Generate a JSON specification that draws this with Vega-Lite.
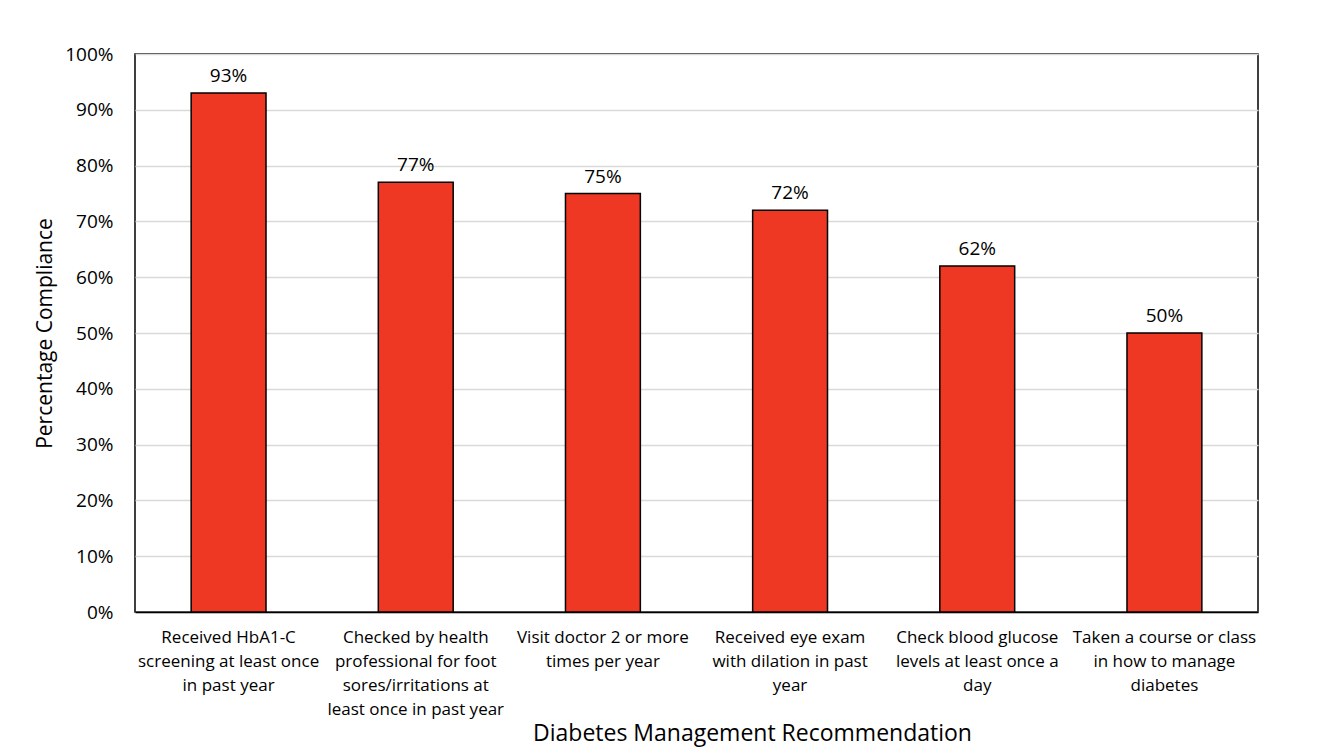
{
  "$schema": "https://vega.github.io/schema/vega-lite/v6.json",
  "width": 1123,
  "height": 558,
  "autosize": {"type": "none"},
  "padding": {"left": 135, "top": 54, "right": 84, "bottom": 141},
  "background": "white",
  "config": {
    "font": "Open Sans",
    "view": {"stroke": "black", "strokeWidth": 1.5},
    "axis": {"labelColor": "black", "titleColor": "black", "titleFontWeight": "normal"}
  },
  "data": {
    "values": [
      {"rec": "hba1c", "pct": 0.93},
      {"rec": "foot", "pct": 0.77},
      {"rec": "doctor", "pct": 0.75},
      {"rec": "eye", "pct": 0.72},
      {"rec": "glucose", "pct": 0.62},
      {"rec": "course", "pct": 0.50}
    ]
  },
  "encoding": {
    "x": {
      "field": "rec",
      "type": "nominal",
      "sort": null,
      "scale": {"paddingInner": 0.6, "paddingOuter": 0.3},
      "axis": {
        "title": "Diabetes Management Recommendation",
        "titleFontSize": 23,
        "titlePadding": 5,
        "titleX": 617,
        "labelExpr": "datum.value == 'hba1c' ? ['Received HbA1-C', 'screening at least once', 'in past year'] : datum.value == 'foot' ? ['Checked by health', 'professional for foot', 'sores/irritations at', 'least once in past year'] : datum.value == 'doctor' ? ['Visit doctor 2 or more', 'times per year'] : datum.value == 'eye' ? ['Received  eye exam', 'with dilation in past', 'year'] : datum.value == 'glucose' ? ['Check blood glucose', 'levels at least once a', 'day'] : ['Taken a course or class', 'in how to manage', 'diabetes']",
        "labelAngle": 0,
        "labelFontSize": 17,
        "labelLineHeight": 24,
        "labelPadding": 17,
        "labelBaseline": "top",
        "ticks": false,
        "domainColor": "black",
        "domainWidth": 1.5,
        "labelLimit": 300
      }
    },
    "y": {
      "field": "pct",
      "type": "quantitative",
      "scale": {"domain": [0, 1]},
      "axis": {
        "title": "Percentage Compliance",
        "titleFontSize": 21,
        "titlePadding": 9,
        "values": [0, 0.1, 0.2, 0.3, 0.4, 0.5, 0.6, 0.7, 0.8, 0.9, 1],
        "format": ".0%",
        "labelFontSize": 19,
        "labelPadding": 22,
        "ticks": false,
        "domain": false,
        "gridColor": "#D9D9D9",
        "gridWidth": 1.5
      }
    }
  },
  "layer": [
    {
      "mark": {"type": "bar", "color": "#EE3824", "stroke": "black", "strokeWidth": 1.5}
    },
    {
      "mark": {"type": "text", "fontSize": 19, "dy": -17, "color": "black"},
      "encoding": {
        "text": {"field": "pct", "type": "quantitative", "format": ".0%"}
      }
    }
  ]
}
